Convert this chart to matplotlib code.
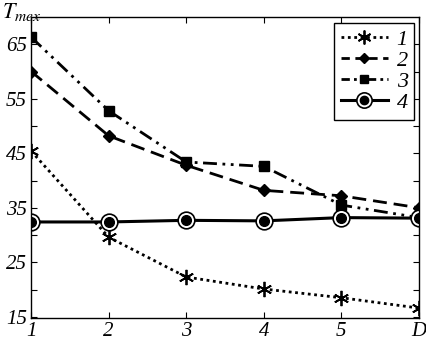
import matplotlib.pyplot as plt
from matplotlib.lines import Line2D

plt.rcParams['font.family'] = 'Liberation Serif'
plt.rcParams['mathtext.fontset'] = 'stix'

# data
x = [1, 2, 3, 4, 5, 6]
xlabels = ['1', '2', '3', '4', '5', 'D']
s1 = [45.4, 29.6, 22.3, 20.1, 18.5, 16.6]
s2 = [60.0, 48.2, 42.8, 38.2, 37.2, 35.0]
s3 = [66.3, 52.8, 43.4, 42.6, 35.5, 33.2]
s4 = [32.4, 32.4, 32.7, 32.6, 33.2, 33.1]
yticks = [15, 20, 25, 30, 35, 40, 45, 50, 55, 60, 65]
ylabels = ['15', '', '25', '', '35', '', '45', '', '55', '', '65']

fig = plt.figure(figsize=(4.27, 3.4), dpi=100)
ax = fig.add_axes([0.073, 0.065, 0.908, 0.885])

ax.plot(x, s1, color='black', linestyle=(0, (1, 1.3)), linewidth=2,
        marker=(6, 2, 0), markersize=11, markeredgewidth=1.3)
ax.plot(x, s2, color='black', linestyle=(0, (5, 2.5)), linewidth=2,
        marker='D', markersize=6)
ax.plot(x, s3, color='black', linestyle=(0, (5, 2, 1, 2, 1, 2)), linewidth=2,
        marker='s', markersize=7)
ax.plot(x, s4, color='black', linestyle='-', linewidth=2.2,
        marker='o', markersize=12, markerfacecolor='white',
        markeredgecolor='black', markeredgewidth=1.2)
ax.plot(x, s4, color='black', linestyle='none', marker='o', markersize=7)

h1 = Line2D([], [], color='black', linestyle=(0, (1, 1.3)), linewidth=2,
            marker=(6, 2, 0), markersize=10, markeredgewidth=1.3)
h2 = Line2D([], [], color='black', linestyle=(0, (3, 2)), linewidth=2,
            marker='D', markersize=5)
h3 = Line2D([], [], color='black', linestyle=(0, (3, 1.5, 1, 1.5, 1, 1.5)), linewidth=2,
            marker='s', markersize=6)
h4a = Line2D([], [], color='black', linestyle='-', linewidth=2.2,
             marker='o', markersize=11, markerfacecolor='white',
             markeredgecolor='black', markeredgewidth=1.2)
h4b = Line2D([], [], color='black', linestyle='none', marker='o', markersize=6)

leg = ax.legend([h1, h2, h3, (h4a, h4b)], ['1', '2', '3', '4'],
                loc='upper right', bbox_to_anchor=(1.0, 0.995),
                prop={'family': 'Liberation Serif', 'style': 'italic', 'size': 16},
                handlelength=2.1, handletextpad=0.4, labelspacing=0.02,
                borderpad=0.3, borderaxespad=0.2, fancybox=False, framealpha=1)
leg.get_frame().set_edgecolor('black')
leg.get_frame().set_linewidth(1.0)

ax.set_xlim(1, 6)
ax.set_ylim(14.8, 70)
ax.set_xticks(x)
ax.set_xticklabels(xlabels, fontstyle='italic', fontsize=15)
ax.set_yticks(yticks)
ax.set_yticklabels(ylabels, fontstyle='italic', fontsize=15)
ax.tick_params(direction='in', top=True, right=True, length=4, pad=3)
for sp in ax.spines.values():
    sp.set_linewidth(1.0)

fig.text(0.005, 0.998, r'$T_{mex}$', fontsize=16, va='top')

fig.savefig('out.png', dpi=100)
